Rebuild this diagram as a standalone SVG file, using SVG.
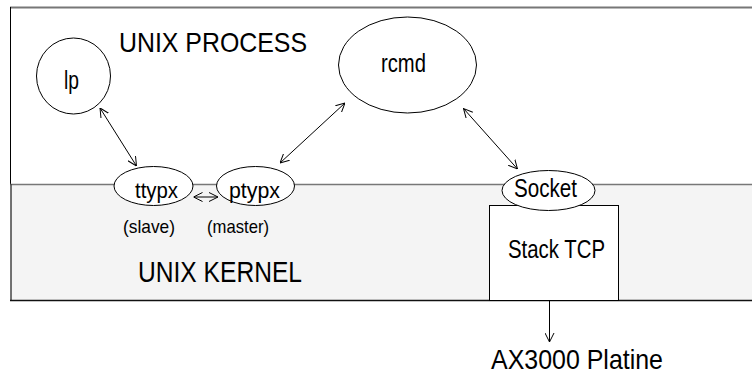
<svg xmlns="http://www.w3.org/2000/svg" width="752" height="374" viewBox="0 0 752 374">
<style>
.t{font-family:"Liberation Sans",Arial,sans-serif;fill:#000}
.n{fill:#fff;stroke:#000;stroke-width:1}
.c{stroke:#000;stroke-width:1;fill:none;marker-start:url(#ah);marker-end:url(#ah)}
</style>
<defs>
<marker id="ah" viewBox="0 0 10 10" refX="10" refY="5" markerWidth="9" markerHeight="10" markerUnits="userSpaceOnUse" orient="auto-start-reverse">
<path d="M0,0 L10,5 L0,10" fill="none" stroke="#000" stroke-width="1.1"/>
</marker>
</defs>
<rect width="752" height="374" fill="#fff"/>
<g id="process-area">
<rect x="10.5" y="7" width="760" height="177" fill="#fff" stroke="none"/>
<line x1="10" y1="7.5" x2="752" y2="7.5" stroke="#777" stroke-width="2"/>
<line x1="10.5" y1="7" x2="10.5" y2="184" stroke="#000" stroke-width="1"/>
<text class="t" x="119" y="52" font-size="28" textLength="188" lengthAdjust="spacingAndGlyphs">UNIX PROCESS</text>
</g>
<g id="kernel-area">
<rect x="11" y="184" width="760" height="116" fill="#f4f4f4"/>
<line x1="10" y1="184.5" x2="752" y2="184.5" stroke="#777" stroke-width="1.5"/>
<line x1="11" y1="184" x2="11" y2="300" stroke="#444" stroke-width="1.5"/>
<line x1="10" y1="300.5" x2="752" y2="300.5" stroke="#111" stroke-width="1.5"/>
<text class="t" x="138" y="281.5" font-size="29" textLength="164" lengthAdjust="spacingAndGlyphs">UNIX KERNEL</text>
</g>
<g id="lp">
<ellipse class="n" cx="73.5" cy="76" rx="37" ry="38"/>
<text class="t" x="64" y="89" font-size="25" textLength="15" lengthAdjust="spacingAndGlyphs">lp</text>
</g>
<g id="rcmd">
<ellipse class="n" cx="407.5" cy="65" rx="69" ry="48"/>
<text class="t" x="381" y="72" font-size="26" textLength="45" lengthAdjust="spacingAndGlyphs">rcmd</text>
</g>
<g id="ttypx">
<ellipse class="n" cx="153.5" cy="186" rx="39.5" ry="19.5"/>
<text class="t" x="135" y="198" font-size="22" textLength="43" lengthAdjust="spacingAndGlyphs">ttypx</text>
<text class="t" x="123" y="233" font-size="19" textLength="52" lengthAdjust="spacingAndGlyphs">(slave)</text>
</g>
<g id="ptypx">
<ellipse class="n" cx="255.5" cy="186" rx="39" ry="19.5"/>
<text class="t" x="229" y="198" font-size="22" textLength="51" lengthAdjust="spacingAndGlyphs">ptypx</text>
<text class="t" x="207" y="233" font-size="19" textLength="62" lengthAdjust="spacingAndGlyphs">(master)</text>
</g>
<g id="stack-tcp">
<rect class="n" x="489.5" y="205.5" width="129" height="95"/>
<text class="t" x="508" y="258" font-size="25" textLength="97" lengthAdjust="spacingAndGlyphs">Stack TCP</text>
</g>
<g id="socket">
<ellipse class="n" cx="548.5" cy="190.5" rx="46.5" ry="20"/>
<text class="t" x="514" y="197" font-size="25" textLength="63" lengthAdjust="spacingAndGlyphs">Socket</text>
</g>
<g id="ax3000">
<text class="t" x="491" y="369" font-size="28" textLength="172" lengthAdjust="spacingAndGlyphs">AX3000 Platine</text>
</g>
<g id="connectors">
<line class="c" x1="100" y1="108" x2="136.5" y2="166"/>
<line class="c" x1="280" y1="163" x2="345" y2="103"/>
<line class="c" x1="463.5" y1="108.5" x2="517.5" y2="169"/>
<line class="c" x1="193.5" y1="197" x2="218" y2="197"/>
<line x1="549.5" y1="301" x2="549.5" y2="342" stroke="#000" stroke-width="1" marker-end="url(#ah)"/>
</g>
</svg>
